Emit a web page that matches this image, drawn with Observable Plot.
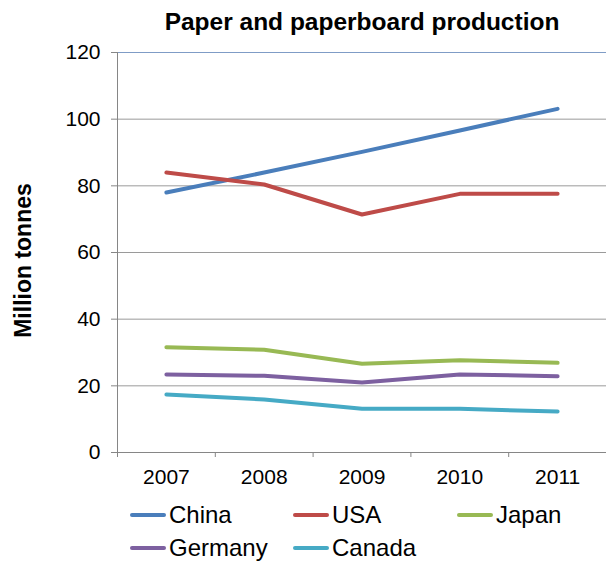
<!DOCTYPE html>
<html>
<head>
<meta charset="utf-8">
<script src="https://cdn.jsdelivr.net/npm/d3@7"></script>
<script src="https://cdn.jsdelivr.net/npm/@observablehq/plot@0.6"></script>
<style>
  html, body { margin: 0; padding: 0; background: #fff; }
  body { width: 606px; height: 562px; overflow: hidden; font-family: "Liberation Sans", Arial, sans-serif; }
  #legend { display: grid; grid-template-columns: 163px 164px 164px; padding-left: 130px; padding-top: 6px; font-size: 24px; line-height: 33px; color: #000; }
  #legend .item { display: flex; align-items: center; white-space: nowrap; }
  #legend .sw { display: inline-block; width: 36px; height: 4px; border-radius: 2px; margin-right: 3px; }
</style>
</head>
<body>
<div id="chart"></div>
<div id="legend"></div>
<script>
const title = "Paper and paperboard production";
const yLabel = "Million tonnes";
const years = [2007, 2008, 2009, 2010, 2011];
const countries = ["China", "USA", "Japan", "Germany", "Canada"];
const china   = [78.0, 84.0, 90.2, 96.6, 103.1];
const usa     = [84.0, 80.4, 71.4, 77.6, 77.6];
const japan   = [31.6, 30.8, 26.6, 27.7, 26.9];
const germany = [23.4, 23.0, 21.0, 23.4, 22.9];
const canada  = [17.4, 15.9, 13.1, 13.1, 12.3];
const yTicks = [0, 20, 40, 60, 80, 100, 120];
const colors = ["#4A7EBB", "#BE4B48", "#98B954", "#7D60A0", "#46AAC5"];

const series = [china, usa, japan, germany, canada];
const data = [];
countries.forEach((c, i) => years.forEach((yr, j) => data.push({country: c, year: yr, value: series[i][j]})));

const bounds = years.map(y => y - 0.5).concat([years[years.length - 1] + 0.5]);
const yMin = yTicks[0], yMax = yTicks[yTicks.length - 1];

const chart = Plot.plot({
  width: 606,
  height: 492,
  marginTop: 52,
  marginBottom: 40,
  marginLeft: 117,
  marginRight: 0,
  style: {fontFamily: "'Liberation Sans', Arial, sans-serif", fontSize: "21px", background: "#fff", color: "#000", overflow: "visible"},
  x: {domain: [bounds[0], bounds[bounds.length - 1]], label: null},
  y: {domain: [yMin, yMax], label: null},
  color: {domain: countries, range: colors},
  marks: [
    Plot.gridY(yTicks.slice(0, -1), {stroke: "#9a9a9a", strokeOpacity: 1, strokeWidth: 1}),
    Plot.ruleY([yMax], {stroke: "#7f9cc6", strokeWidth: 1}),
    Plot.ruleX([bounds[0]], {y1: yMin, y2: yMax, stroke: "#868686"}),
    Plot.ruleY([yMin], {stroke: "#868686"}),
    Plot.axisY(yTicks, {label: null, tickSize: 6, tickPadding: 11, stroke: "#868686", tickFormat: d => String(d)}),
    Plot.axisX(bounds, {label: null, tickSize: 5, tickFormat: () => "", stroke: "#868686"}),
    Plot.axisX(years, {label: null, tickSize: 0, tickPadding: 17, tickFormat: d => String(d)}),
    Plot.lineY(data, {x: "year", y: "value", stroke: "country", strokeWidth: 4, strokeLinecap: "round", strokeLinejoin: "round"}),
    Plot.text([title], {frameAnchor: "top", dy: -30, fontSize: 24.5, fontWeight: "bold", textAnchor: "middle", lineAnchor: "middle"}),
    Plot.text([yLabel], {frameAnchor: "left", dx: -94, dy: 8, rotate: -90, fontSize: 23, fontWeight: "bold", textAnchor: "middle", lineAnchor: "middle"})
  ]
});
document.getElementById("chart").appendChild(chart);

const legend = document.getElementById("legend");
countries.forEach((c, i) => {
  const item = document.createElement("div");
  item.className = "item";
  const sw = document.createElement("span");
  sw.className = "sw";
  sw.style.background = colors[i];
  item.appendChild(sw);
  item.appendChild(document.createTextNode(c));
  legend.appendChild(item);
});
</script>
</body>
</html>
